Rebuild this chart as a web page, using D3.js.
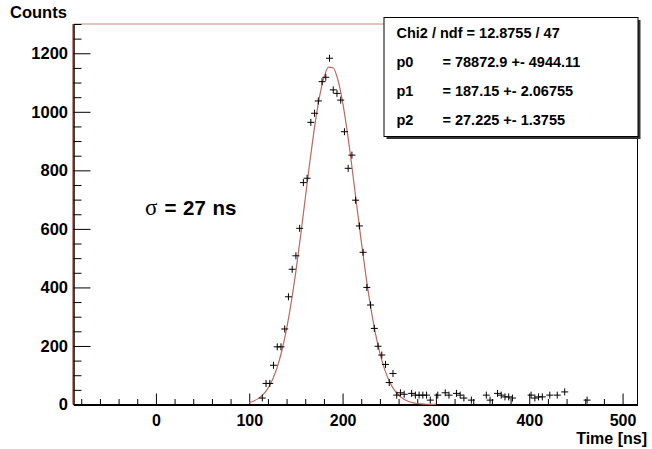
<!DOCTYPE html>
<html>
<head>
<meta charset="utf-8">
<script src="https://cdn.jsdelivr.net/npm/d3@7"></script>
<style>
	body { margin: 0; background: #fff; }
	svg { display: block; font-family: "Liberation Sans", Arial, sans-serif; font-weight: bold; }
</style>
</head>
<body>
<svg id="chart" width="652" height="449"></svg>
<script>
// histogram bins (centre in ns) and counts
const times = [114, 118, 122, 126, 130, 134, 138, 142, 146, 150, 154, 158, 162, 166, 170, 174, 178, 182, 186,
	190, 194, 198, 202, 206, 210, 214, 218, 222, 226, 230, 234, 238, 242, 246, 250, 254, 258, 262, 266,
	274, 278, 282, 286, 290, 294, 302, 310, 314, 322, 326, 330, 338, 354, 358, 366, 370, 374, 378, 382,
	402, 406, 410, 414, 422, 430, 438, 462];
const counts = [22, 72, 72, 134, 197, 197, 258, 368, 462, 508, 602, 758, 773, 964, 995, 1037, 1103, 1118, 1183,
	1075, 1063, 1040, 932, 807, 852, 698, 610, 520, 400, 340, 260, 199, 169, 137, 75, 106, 32, 40, 35,
	38, 32, 32, 32, 32, 15, 32, 40, 32, 38, 32, 22, 15, 32, 15, 38, 32, 26, 26, 22,
	32, 22, 26, 26, 32, 32, 43, 15];

// fitted curve as drawn
const fitTimes = [100, 105, 110, 115, 120, 125, 130, 135, 140, 145, 150, 155, 160, 165, 170, 175, 180, 185,
	190, 195, 200, 205, 210, 215, 220, 225, 230, 235, 240, 245, 250, 255, 260, 265, 270, 275, 280, 285,
	290, 295, 300];
const fitCounts = [6.9, 12.2, 20.9, 34.5, 55.2, 85.3, 127.7, 184.5, 258, 348.8, 455.7, 575.6, 703.1, 830.2,
	947.9, 1046.4, 1116.8, 1152.4, 1149.7, 1109, 1034.2, 932.4, 812.9, 685, 558.2, 439.9, 335, 246.7, 175.6,
	120.9, 80.5, 51.8, 32.2, 19.4, 11.3, 6.3, 3.4, 1.8, 0.9, 0.4, 0.2];

const xTicks = [0, 100, 200, 300, 400, 500];
const yTicks = [0, 200, 400, 600, 800, 1000, 1200];
const statNames = ["Chi2 / ndf = 12.8755 / 47", "p0", "p1", "p2"];
const statValues = ["", "= 78872.9 +- 4944.11", "= 187.15 +- 2.06755", "= 27.225 +- 1.3755"];

var margin = { top: 24, right: 14.5, bottom: 44.5, left: 73.5 },
	width = 652,
	height = 449;

var svg = d3.select("#chart");

let x = d3
	.scaleLinear()
	.domain([-88.3, 516])
	.range([margin.left, width - margin.right]);

let y = d3
	.scaleLinear()
	.domain([0, 1300])
	.range([height - margin.bottom, margin.top]);

// frame
svg
	.append("line")
	.attr("x1", margin.left)
	.attr("x2", width - margin.right)
	.attr("y1", margin.top)
	.attr("y2", margin.top)
	.attr("stroke", "#c98a84")
	.attr("stroke-width", 1);
svg
	.append("line")
	.attr("x1", width - margin.right)
	.attr("x2", width - margin.right)
	.attr("y1", margin.top)
	.attr("y2", height - margin.bottom)
	.attr("stroke", "#000")
	.attr("stroke-width", 1);
svg
	.append("line")
	.attr("x1", margin.left - 1)
	.attr("x2", margin.left - 1)
	.attr("y1", margin.top)
	.attr("y2", height - margin.bottom)
	.attr("stroke", "#c98a84")
	.attr("stroke-width", 1);

// x axis: major every 100, minor every 20, ticks pointing up
let xMinor = d3.range(-80, 517, 20).filter((v) => v % 100 !== 0);
svg
	.append("g")
	.attr("transform", `translate(0,${height - margin.bottom})`)
	.call(d3.axisBottom(x).tickValues(xMinor).tickSize(-5.5).tickFormat(""))
	.call((g) => g.select(".domain").remove())
	.call((g) => g.selectAll("line").attr("stroke", "#000"));

svg
	.append("g")
	.attr("transform", `translate(0,${height - margin.bottom})`)
	.call(d3.axisBottom(x).tickValues(xTicks).tickFormat(d3.format("d")).tickSizeInner(-11).tickSizeOuter(0).tickPadding(10))
	.call((g) => g.select(".domain").attr("stroke-width", 2))
	.call((g) =>
		g
			.selectAll("text")
			.attr("font-family", "Liberation Sans, Arial, sans-serif")
			.attr("font-weight", "bold")
			.attr("font-size", 16)
			.attr("fill", "#000")
	);

// y axis: major every 200, minor every 50, ticks pointing right
let yMinor = d3.range(0, 1301, 50).filter((v) => v % 200 !== 0);
svg
	.append("g")
	.attr("transform", `translate(${margin.left},0)`)
	.call(d3.axisLeft(y).tickValues(yMinor).tickSize(-8).tickFormat(""))
	.call((g) => g.select(".domain").remove());

svg
	.append("g")
	.attr("transform", `translate(${margin.left},0)`)
	.call(d3.axisLeft(y).tickValues(yTicks).tickFormat(d3.format("d")).tickSizeInner(-17).tickSizeOuter(0).tickPadding(5.5))
	.call((g) => g.select(".domain").attr("stroke-width", 1.5))
	.call((g) =>
		g
			.selectAll("text")
			.attr("font-family", "Liberation Sans, Arial, sans-serif")
			.attr("font-weight", "bold")
			.attr("font-size", 16.5)
			.attr("fill", "#000")
	);

// axis titles
svg
	.append("text")
	.attr("x", 10)
	.attr("y", 17.5)
	.attr("font-size", 16.5)
	.text("Counts");

svg
	.append("text")
	.attr("x", 647)
	.attr("y", 443.5)
	.attr("text-anchor", "end")
	.attr("font-size", 16)
	.text("Time [ns]");

// fit curve
let line = d3
	.line()
	.x((d, i) => x(fitTimes[i]))
	.y((d) => y(d))
	.curve(d3.curveMonotoneX);

svg
	.append("path")
	.attr("d", line(fitCounts))
	.attr("fill", "none")
	.attr("stroke", "#c0675f")
	.attr("stroke-width", 1.2);

// data markers "+"
svg
	.append("g")
	.selectAll("path")
	.data(counts)
	.join("path")
	.attr("d", (d, i) => {
		let cx = x(times[i]),
			cy = y(d);
		return `M${cx - 3.5},${cy}H${cx + 3.5}M${cx},${cy - 3.5}V${cy + 3.5}`;
	})
	.attr("stroke", "#000")
	.attr("stroke-width", 1)
	.attr("fill", "none");

// sigma label
let sig = svg.append("text").attr("x", 145).attr("y", 214.5).attr("font-size", 20.5).attr("word-spacing", 1);
sig.append("tspan").attr("font-family", "Liberation Serif, serif").attr("font-weight", "normal").attr("font-size", 23).text("σ");
sig.append("tspan").attr("dx", 7).text("= 27 ns");

// stats box
var box = { x: 384, y: 17.5, w: 254, h: 119 };
svg
	.append("rect")
	.attr("x", box.x + 2.5)
	.attr("y", box.y + 2.5)
	.attr("width", box.w)
	.attr("height", box.h)
	.attr("fill", "#333");
svg
	.append("rect")
	.attr("x", box.x)
	.attr("y", box.y)
	.attr("width", box.w)
	.attr("height", box.h)
	.attr("fill", "#fff")
	.attr("stroke", "#000")
	.attr("stroke-width", 1);

statNames.forEach((s, i) => {
	let by = 37.5 + i * 29.2;
	svg.append("text").attr("x", 396.5).attr("y", by).attr("font-size", 14.5).text(s);
	if (statValues[i])
		svg.append("text").attr("x", 442.5).attr("y", by).attr("font-size", 14.5).text(statValues[i]);
});
</script>
</body>
</html>
